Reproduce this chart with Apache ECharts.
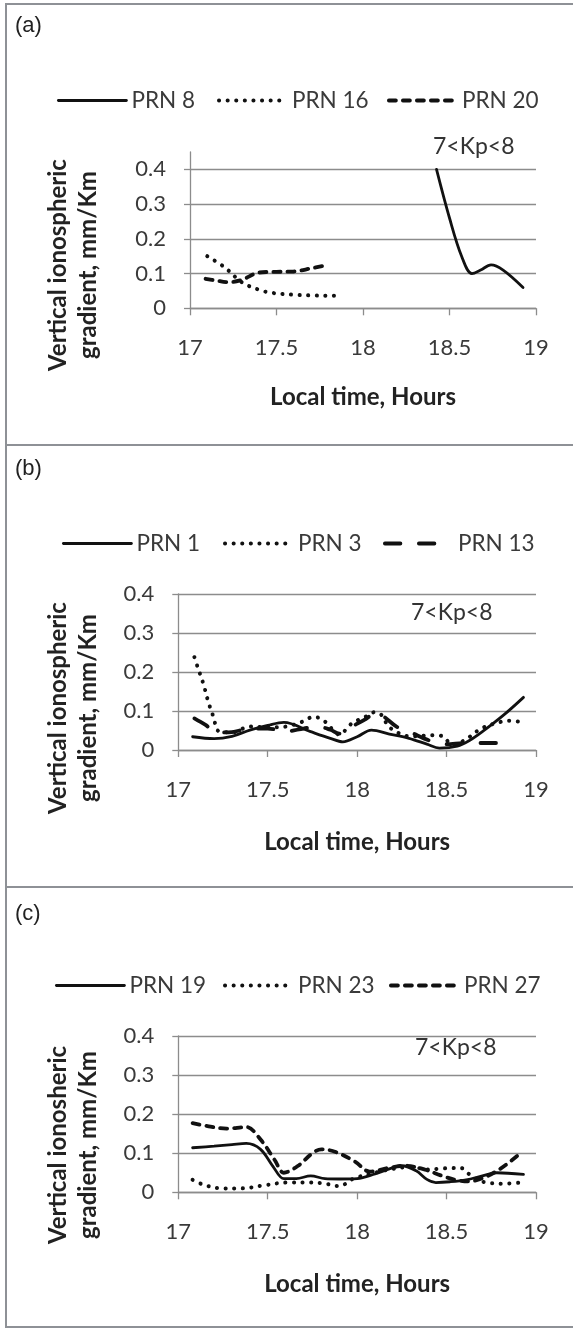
<!DOCTYPE html>
<html>
<head>
<meta charset="utf-8">
<script src="https://cdn.jsdelivr.net/npm/echarts@6/dist/echarts.min.js"></script>
<style>
html,body{margin:0;padding:0;background:#fff;}
#chart{width:573px;height:1329px;}
</style>
</head>
<body>
<div id="chart"></div>
<script>
// ---------- DATA ----------
const xTicks = [17, 17.5, 18, 18.5, 19];
const yTicks = [0, 0.1, 0.2, 0.3, 0.4];

// Panel (a)
const prn8Time  = [18.425, 18.5, 18.57, 18.63, 18.68, 18.74, 18.81, 18.925];
const prn8Val   = [0.40, 0.26, 0.15, 0.10, 0.11, 0.125, 0.11, 0.06];
const prn16Time = [17.10, 17.2, 17.3, 17.4, 17.48, 17.6, 17.7, 17.8, 17.88];
const prn16Val  = [0.15, 0.118, 0.075, 0.053, 0.044, 0.039, 0.037, 0.036, 0.036];
const prn20Time = [17.09, 17.15, 17.22, 17.3, 17.4, 17.5, 17.6, 17.7, 17.77];
const prn20Val  = [0.085, 0.08, 0.075, 0.082, 0.103, 0.105, 0.106, 0.115, 0.122];

// Panel (b)
const prn1Time  = [17.08, 17.2, 17.3, 17.4, 17.5, 17.59, 17.74, 17.85, 17.92, 18.0, 18.08, 18.18, 18.29, 18.39, 18.46, 18.56, 18.63, 18.7, 18.82, 18.93];
const prn1Val   = [0.034, 0.029, 0.035, 0.051, 0.063, 0.071, 0.047, 0.03, 0.021, 0.034, 0.051, 0.041, 0.03, 0.015, 0.005, 0.01, 0.025, 0.047, 0.09, 0.135];
const prn3Time  = [17.09, 17.11, 17.14, 17.17, 17.2, 17.22, 17.3, 17.4, 17.5, 17.6, 17.68, 17.76, 17.82, 17.9, 17.97, 18.05, 18.1, 18.14, 18.18, 18.3, 18.43, 18.48, 18.53, 18.6, 18.69, 18.77, 18.85, 18.92];
const prn3Val   = [0.238, 0.21, 0.17, 0.12, 0.08, 0.05, 0.045, 0.06, 0.058, 0.06, 0.07, 0.085, 0.073, 0.04, 0.068, 0.086, 0.097, 0.088, 0.058, 0.035, 0.038, 0.035, 0.014, 0.025, 0.054, 0.068, 0.075, 0.072];
const prn13Time = [17.09, 17.15, 17.22, 17.3, 17.4, 17.5, 17.6, 17.7, 17.78, 17.85, 17.9, 17.97, 18.05, 18.1, 18.15, 18.22, 18.3, 18.4, 18.5, 18.6, 18.7, 18.8, 18.85];
const prn13Val  = [0.081, 0.065, 0.045, 0.046, 0.055, 0.055, 0.048, 0.055, 0.06, 0.052, 0.042, 0.06, 0.08, 0.095, 0.085, 0.06, 0.045, 0.025, 0.015, 0.018, 0.018, 0.018, 0.018];

// Panel (c)
const prn19Time = [17.08, 17.2, 17.3, 17.38, 17.46, 17.53, 17.59, 17.66, 17.74, 17.82, 17.9, 18.0, 18.1, 18.18, 18.25, 18.33, 18.39, 18.44, 18.52, 18.61, 18.7, 18.78, 18.93];
const prn19Val  = [0.114, 0.118, 0.122, 0.125, 0.11, 0.066, 0.035, 0.035, 0.042, 0.035, 0.034, 0.035, 0.047, 0.06, 0.068, 0.055, 0.033, 0.025, 0.027, 0.032, 0.042, 0.05, 0.046];
const prn23Time = [17.08, 17.15, 17.25, 17.35, 17.48, 17.61, 17.74, 17.82, 17.9, 17.98, 18.1, 18.2, 18.3, 18.4, 18.47, 18.58, 18.63, 18.68, 18.73, 18.8, 18.92];
const prn23Val  = [0.032, 0.018, 0.01, 0.01, 0.018, 0.025, 0.025, 0.022, 0.016, 0.035, 0.05, 0.06, 0.065, 0.058, 0.061, 0.062, 0.045, 0.03, 0.025, 0.022, 0.025];
const prn27Time = [17.08, 17.18, 17.27, 17.38, 17.46, 17.54, 17.59, 17.67, 17.75, 17.8, 17.88, 17.99, 18.07, 18.18, 18.27, 18.38, 18.47, 18.55, 18.62, 18.7, 18.8, 18.9];
const prn27Val  = [0.177, 0.168, 0.163, 0.167, 0.135, 0.082, 0.05, 0.068, 0.1, 0.11, 0.103, 0.078, 0.053, 0.063, 0.068, 0.058, 0.043, 0.032, 0.028, 0.036, 0.06, 0.095];

const panelLabels = ['(a)', '(b)', '(c)'];
const yTitles = ['Vertical ionospheric\ngradient, mm/Km', 'Vertical ionospheric\ngradient, mm/Km', 'Vertical ionosheric\ngradient, mm/Km'];
const xTitle = 'Local time, Hours';
const kpText = '7<Kp<8';

// ---------- STYLES ----------
const FONT = 'Lato';
const GRID_C = '#8c8c8c';
const LABEL_C = '#3a3a3a';
const TITLE_C = '#222222';
const LINE_C = '#111111';

const pair = (t, v) => t.map((x, i) => [x, v[i]]);

const styles = {
  solid:  {type: 'solid', width: 2.8, cap: 'round'},
  dotted: {type: [0.1, 8.5], width: 4, cap: 'round'},
  dashed: {type: [7, 7], width: 3.8, cap: 'round'},
  longdash: {type: [15.5, 18.5], width: 3.8, cap: 'round'}
};

const panels = [
  {grid: {left: 190, right: 37, top: 152, height: 156.3}, ymax: 0.45, nameGap: 77,
   series: [
     {name: 'PRN 8', d: pair(prn8Time, prn8Val), s: 'solid', legendLeft: 57},
     {name: 'PRN 16', d: pair(prn16Time, prn16Val), s: 'dotted', legendLeft: 217},
     {name: 'PRN 20', d: pair(prn20Time, prn20Val), s: 'dashed', legendLeft: 387}
   ], legendY: 100, labelY: 27, kp: [433, 147], ytitle: [73, 265]},
  {grid: {left: 178.3, right: 37, top: 594, height: 156}, ymax: 0.4, nameGap: 80,
   series: [
     {name: 'PRN 1', d: pair(prn1Time, prn1Val), s: 'solid', legendLeft: 62},
     {name: 'PRN 3', d: pair(prn3Time, prn3Val), s: 'dotted', legendLeft: 223},
     {name: 'PRN 13', d: pair(prn13Time, prn13Val), s: 'longdash', legendLeft: 383}
   ], legendY: 543, labelY: 470, kp: [411, 613], ytitle: [73, 708]},
  {grid: {left: 178.3, right: 37, top: 1036, height: 156.3}, ymax: 0.4, nameGap: 80,
   series: [
     {name: 'PRN 19', d: pair(prn19Time, prn19Val), s: 'solid', legendLeft: 55},
     {name: 'PRN 23', d: pair(prn23Time, prn23Val), s: 'dotted', legendLeft: 223},
     {name: 'PRN 27', d: pair(prn27Time, prn27Val), s: 'dashed', legendLeft: 389}
   ], legendY: 985, labelY: 915, kp: [415, 1048], ytitle: [73, 1145]}
];

const option = {
  animation: false,
  backgroundColor: '#fff',
  grid: [], xAxis: [], yAxis: [], series: [], legend: [], graphic: []
};

panels.forEach((p, i) => {
  option.grid.push(p.grid);
  option.xAxis.push({
    type: 'value', gridIndex: i, min: xTicks[0], max: xTicks[xTicks.length - 1], interval: 0.5,
    axisLine: {show: true, lineStyle: {color: GRID_C, width: 1.3}},
    axisTick: {show: true, length: 7, lineStyle: {color: GRID_C, width: 1.3}},
    splitLine: {show: false},
    axisLabel: {margin: 29, fontFamily: FONT, fontSize: 22, color: LABEL_C},
    name: xTitle, nameLocation: 'middle', nameGap: p.nameGap,
    nameTextStyle: {fontFamily: FONT, fontSize: 24, fontWeight: 'bold', color: TITLE_C}
  });
  option.yAxis.push({
    type: 'value', gridIndex: i, min: 0, max: p.ymax, interval: 0.1,
    axisLine: {show: true, lineStyle: {color: GRID_C, width: 1.3}},
    axisTick: {show: true, length: 6, lineStyle: {color: GRID_C, width: 1.3}, customValues: yTicks},
    splitLine: {show: true, showMaxLine: true, lineStyle: {color: GRID_C, width: 1.3}},
    axisLabel: {margin: 24, fontFamily: FONT, fontSize: 22, color: LABEL_C, customValues: yTicks, showMaxLabel: true}
  });
  p.series.forEach(s => {
    const ls = Object.assign({color: LINE_C}, styles[s.s]);
    option.series.push({
      name: s.name, type: 'line', xAxisIndex: i, yAxisIndex: i,
      data: s.d, smooth: 0.35, symbol: 'none', showSymbol: false,
      lineStyle: ls,
      itemStyle: {color: LINE_C}
    });
    option.legend.push({
      data: [s.name], left: s.legendLeft, top: p.legendY - 11, padding: 0,
      itemWidth: 68, itemHeight: 22,
      itemStyle: {opacity: 0, color: 'rgba(0,0,0,0)', borderWidth: 0},
      lineStyle: {width: ls.width, type: ls.type, cap: ls.cap, color: LINE_C},
      textStyle: {fontFamily: FONT, fontSize: 22.5, color: LABEL_C, lineHeight: 22}
    });
  });
  option.graphic.push({
    type: 'text', left: 15, top: p.labelY - 12,
    style: {text: panelLabels[i], font: '22px "Liberation Sans"', fill: '#222'}
  });
  option.graphic.push({
    type: 'text', x: p.kp[0], y: p.kp[1],
    style: {text: kpText, font: '23px Lato', fill: '#333', verticalAlign: 'middle', align: 'left'}
  });
  option.graphic.push({
    type: 'text', x: p.ytitle[0], y: p.ytitle[1], rotation: Math.PI / 2,
    style: {text: yTitles[i], font: 'bold 24px Lato', fill: TITLE_C, align: 'center', verticalAlign: 'middle', lineHeight: 30}
  });
});

// frame lines
const BORDER_C = '#8e9196';
[[6, 4, 573, 4], [6, 445, 573, 445], [6, 887, 573, 887], [6, 1327, 573, 1327], [6, 3, 6, 1328]].forEach(l => {
  option.graphic.push({type: 'line', shape: {x1: l[0], y1: l[1], x2: l[2], y2: l[3]}, style: {stroke: BORDER_C, lineWidth: 2}, silent: true});
});

const chart = echarts.init(document.getElementById('chart'), null, {renderer: 'canvas'});
chart.setOption(option);
</script>
</body>
</html>
